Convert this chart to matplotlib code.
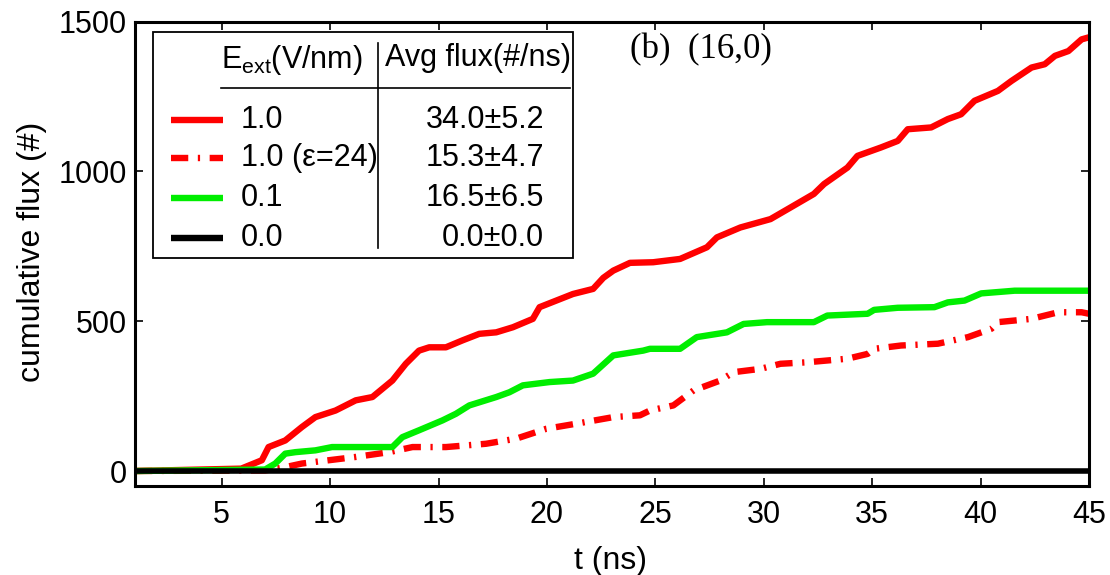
import matplotlib
matplotlib.use("Agg")
import matplotlib.pyplot as plt
from matplotlib.lines import Line2D
from matplotlib.patches import Rectangle

plt.rcParams['font.family'] = ['Liberation Sans', 'DejaVu Sans']
plt.rcParams['mathtext.fontset'] = 'custom'
plt.rcParams['mathtext.rm'] = 'Liberation Sans'
plt.rcParams['mathtext.it'] = 'Liberation Sans:italic'

# ---------------- data ----------------
t_red = [1.0, 5.9, 6.85, 7.16, 7.93, 8.7, 9.32, 10.25, 11.18, 11.95, 12.87, 13.49, 14.1, 14.57,
         15.34, 16.1, 16.88, 17.66, 18.43, 19.35, 19.66, 20.43, 21.2, 22.13, 22.6, 23.06, 23.83,
         24.9, 26.14, 27.38, 27.84, 28.92, 30.31, 31.24, 32.31, 32.78, 33.86, 34.32, 35.4, 36.18,
         36.64, 37.72, 38.49, 39.1, 39.72, 40.8, 41.42, 42.35, 42.96, 43.43, 44.05, 44.66, 45.0]
f_red = [0, 8, 36, 80, 102, 147, 180, 202, 236, 247, 302, 358, 402, 413,
         413, 436, 458, 463, 480, 508, 547, 569, 591, 608, 645, 669, 695,
         697, 708, 747, 780, 813, 841, 880, 925, 958, 1013, 1052, 1080, 1102,
         1141, 1147, 1175, 1191, 1236, 1269, 1302, 1347, 1358, 1386, 1402, 1441, 1448]

t_eps = [1.0, 7.0, 7.93, 8.7, 9.94, 11.18, 12.72, 13.8, 15.34, 17.19, 18.58, 19.97, 21.51,
         23.06, 24.29, 24.75, 25.83, 26.76, 27.99, 28.61, 29.84, 30.77, 32.0, 33.86, 34.79,
         35.09, 36.33, 38.03, 39.42, 40.5, 40.8, 42.35, 43.58, 44.66, 45.0]
f_eps = [0, 2, 13, 25, 36, 47, 63, 80, 80, 91, 108, 141, 160,
         180, 186, 202, 219, 269, 302, 330, 341, 358, 363, 375, 391,
         408, 419, 425, 447, 475, 497, 508, 530, 530, 525]

t_green = [1.0, 7.0, 7.47, 7.93, 8.4, 9.32, 10.09, 11.48, 12.87, 13.33, 14.1, 15.18, 15.8,
           16.42, 17.66, 18.27, 18.89, 20.12, 21.2, 22.13, 23.06, 24.44, 24.75, 26.14, 26.91,
           28.3, 29.07, 30.15, 32.31, 32.93, 34.79, 35.09, 36.18, 37.87, 38.49, 39.26, 40.03,
           41.57, 44.66, 45.0]
f_green = [0, 5, 25, 58, 63, 69, 80, 80, 80, 113, 136, 169, 191,
           219, 247, 263, 286, 297, 302, 325, 386, 402, 408, 408, 447,
           463, 491, 497, 497, 519, 525, 538, 545, 547, 563, 569, 593,
           602, 602, 602]

t_zero = [1.0, 45.0]
f_zero = [0, 0]

field_labels = ['1.0', '1.0 (\u03b5=24)', '0.1', '0.0']
flux_labels = ['34.0\u00b15.2', '15.3\u00b14.7', '16.5\u00b16.5', '0.0\u00b10.0']
colors = ['#ff0000', '#ff0000', '#00ee00', '#000000']
styles = ['-', (0, (2.7, 1.5, 0.35, 1.5)), '-', '-']

xticks = [5, 10, 15, 20, 25, 30, 35, 40, 45]
yticks = [0, 500, 1000, 1500]

# ---------------- figure ----------------
W, H = 1110, 575
fig = plt.figure(figsize=(W / 100, H / 100), dpi=100)

def fx(px):
    return px / W

def fy(py):
    return 1 - py / H

ax = fig.add_axes([fx(135), fy(486), fx(1089) - fx(135), fy(21.7) - fy(486)])

series = [(t_red, f_red), (t_eps, f_eps), (t_green, f_green), (t_zero, f_zero)]
lws = [4.6, 4.6, 4.6, 4.0]
for (tt, ff), c, ls, lw in zip(series, colors, styles, lws):
    ax.plot(tt, ff, color=c, linestyle=ls, lw=lw, solid_capstyle='butt')

ax.set_xlim(1, 45)
ax.set_ylim(-50, 1500)
ax.set_xticks(xticks)
ax.set_yticks(yticks)
ax.tick_params(direction='in', top=True, right=True, length=6, width=1.2,
               labelsize=22)
ax.tick_params(axis='x', pad=10)
ax.tick_params(axis='y', pad=6)
for s in ax.spines.values():
    s.set_linewidth(2.2)

fig.text(fx(32), fy(252), 'cumulative flux (#)', rotation=90, ha='center',
         va='center', fontsize=23)
fig.text(fx(610), fy(561), 't (ns)', ha='center', va='center', fontsize=23)

fig.text(fx(630), fy(50), '(b)  (16,0)', ha='left', va='center', fontsize=25,
         family=['Liberation Serif', 'DejaVu Serif'])

# ---------------- table legend ----------------
fig.patches.append(Rectangle((fx(153), fy(258)), fx(573) - fx(153), fy(32) - fy(258),
                             transform=fig.transFigure, facecolor='white',
                             edgecolor='black', lw=1.3, zorder=5))
fig.lines.append(Line2D([fx(221), fx(570)], [fy(88), fy(88)], transform=fig.transFigure,
                        color='black', lw=1.2, zorder=6))
fig.lines.append(Line2D([fx(378), fx(378)], [fy(43), fy(248)], transform=fig.transFigure,
                        color='black', lw=1.2, zorder=6))
fig.text(fx(221), fy(60), r'E$_{\mathrm{ext}}$(V/nm)', ha='left', va='center',
         fontsize=22, zorder=7)
fig.text(fx(385), fy(58), 'Avg flux(#/ns)', ha='left', va='center', fontsize=22, zorder=7)

row_y = [120, 158, 198, 238]
for yy, lab, val, c, ls in zip(row_y, field_labels, flux_labels, colors, styles):
    fig.lines.append(Line2D([fx(171), fx(223)], [fy(yy), fy(yy)], transform=fig.transFigure,
                            color=c, linestyle=ls, lw=4.6, zorder=6,
                            solid_capstyle='butt'))
    fig.text(fx(241), fy(yy), lab, ha='left', va='center', fontsize=22, zorder=7)
    fig.text(fx(544), fy(yy), val, ha='right', va='center', fontsize=22, zorder=7)

fig.savefig('out.png', dpi=100)
